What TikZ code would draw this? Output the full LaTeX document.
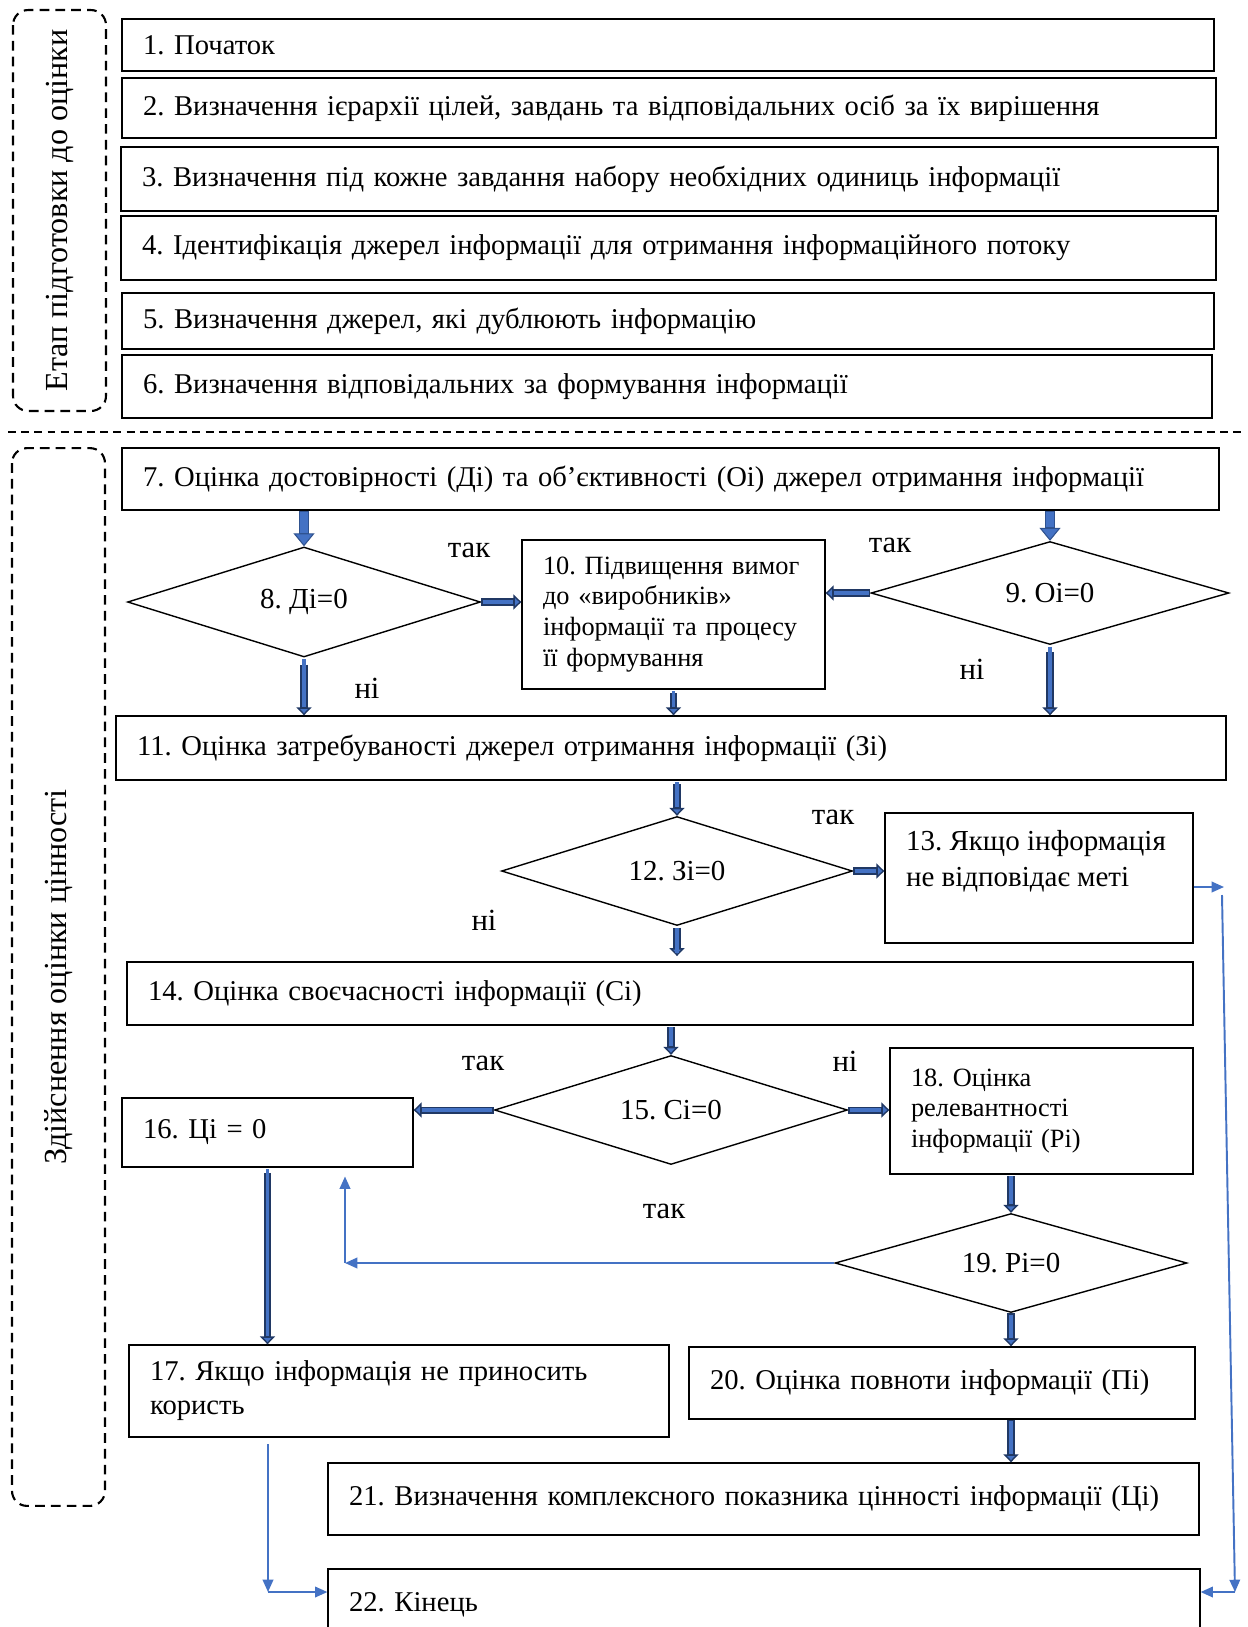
\documentclass[tikz,border=0pt]{standalone}
\usepackage{fontspec}
\setmainfont{Liberation Serif}
\usetikzlibrary{
  shapes.geometric, % for the diamonds
  arrows.meta}
\frenchspacing
\definecolor{navy}{HTML}{203864}
\definecolor{midnavy}{HTML}{2F528F}
\definecolor{midblue}{HTML}{4472C4}
\newcommand{\txt}{\fontsize{16.3}{19.3}\selectfont}
\newcommand{\smalltxt}{\fontsize{15}{17.6}\selectfont}
\tikzstyle{stage} = [draw, line width=0.8pt, align=left, inner xsep=0.42cm, inner ysep=0pt, font=\txt]
\tikzstyle{check} = [draw, diamond, line width=0.8pt, inner sep=0pt, aspect=3, font=\fontsize{16.5}{19}\selectfont]
\tikzstyle{phase} = [draw, dash pattern=on 5.5pt off 3.5pt, line width=1.2pt, rounded corners=0.3cm, rotate=90, font=\fontsize{18.3}{21}\selectfont]
\tikzstyle{answer} = [inner sep=0pt, font=\fontsize{17.5}{20}\selectfont]
\tikzstyle{sep} = [dash pattern=on 4.5pt off 3pt, line width=0.7pt]
\tikzstyle{blk} = [draw=navy, line width=4pt, -{Triangle[length=4.5pt,width=8.5pt,line width=0.8pt,fill=midblue]},
  postaction={draw=midblue, line width=2pt, -, shorten >=4.9pt, shorten <=1pt}]
\tikzstyle{blkbig} = [draw=midnavy, line width=5.7pt, -{Triangle[length=7.4pt,width=12pt,line width=0.6pt,fill=midblue]},
  postaction={draw=midblue, line width=4.5pt, -, shorten >=7.6pt, shorten <=0.6pt}]
\tikzstyle{fb} = [draw=midblue, line width=1.1pt, -{Triangle[length=7pt,width=6pt]}]

\begin{document}
\begin{tikzpicture}[x=0.02cm, y=-0.02cm]
\useasboundingbox (0,0) rectangle (1248,1627);
\clip (0,0) rectangle (1248,1627);

% preparation
\node[phase, minimum width=8.02cm, minimum height=1.86cm] (prep) at (59.5,210.5) {Етап підготовки до оцінки};
\node[stage, minimum height=1.04cm, text width=21cm] (b1) at (668,45) {1. Початок};
\node[stage, minimum height=1.2cm, text width=21.04cm] (b2) at (669,108) {2. Визначення ієрархії цілей, завдань та відповідальних осіб за їх вирішення};
\node[stage, minimum height=1.28cm, text width=21.1cm] (b3) at (669.5,179) {3. Визначення під кожне завдання набору необхідних одиниць інформації};
\node[stage, minimum height=1.28cm, text width=21.06cm] (b4) at (668.5,248) {4. Ідентифікація джерел інформації для отримання інформаційного потоку};
\node[stage, minimum height=1.12cm, text width=21cm] (b5) at (668,321) {5. Визначення джерел, які дублюють інформацію};
\node[stage, minimum height=1.26cm, text width=20.96cm] (b6) at (667,386.5) {6. Визначення відповідальних за формування інформації};

\draw[sep] (8,432) -- (1243,432);

% evaluation
\node[phase, minimum width=21.16cm, minimum height=1.86cm] (eval) at (58.5,977) {Здійснення оцінки цінності};
\node[stage, minimum height=1.24cm, text width=21.1cm] (b7) at (670.5,479) {7. Оцінка достовірності (Ді) та об’єктивності (Оі) джерел отримання інформації};
\node[check, minimum width=7.06cm, minimum height=2.2cm] (d8) at (304,602) {8. Ді=0};
\node[check, minimum width=7.16cm, minimum height=2.06cm] (d9) at (1050,593) {9. Оі=0};
\node[stage, font=\smalltxt, minimum height=2.98cm, text width=5.22cm] (b10) at (673.5,614.5) {10. Підвищення вимог\\до «виробників»\\інформації та процесу\\її формування};
\node[stage, minimum height=1.28cm, text width=21.36cm] (b11) at (671,748) {11. Оцінка затребуваності джерел отримання інформації (Зі)};
\node[check, minimum width=7.02cm, minimum height=2.18cm] (d12) at (677,871) {12. Зі=0};
\node[stage, font=\fontsize{16.5}{20.4}\selectfont, inner ysep=0.35cm] (b13) at (1039,878) {\parbox[c][1.9cm][t]{5.32cm}{13. Якщо інформація\\не відповідає меті}};
\node[stage, minimum height=1.26cm, text width=20.48cm] (b14) at (660,993.5) {14. Оцінка своєчасності інформації (Сі)};
\node[check, minimum width=7.06cm, minimum height=2.18cm] (d15) at (671,1110) {15. Сі=0};
\node[stage, minimum height=1.38cm, text width=4.98cm] (b16) at (267.5,1132.5) {16. Ці = 0};
\node[stage, font=\smalltxt, minimum height=2.52cm, text width=5.22cm] (b18) at (1041.5,1111) {18. Оцінка\\релевантності\\інформації (Рі)};
\node[check, minimum width=7.04cm, minimum height=1.98cm] (d19) at (1011,1263) {19. Рі=0};
\node[stage, minimum height=1.84cm, text width=9.96cm] (b17) at (399,1391) {17. Якщо інформація не приносить\\користь};
\node[stage, minimum height=1.44cm, text width=9.28cm] (b20) at (942,1383) {20. Оцінка повноти інформації (Пі)};
\node[stage, minimum height=1.44cm, text width=16.58cm] (b21) at (763.5,1499) {21. Визначення комплексного показника цінності інформації (Ці)};
\node[stage, minimum height=1.42cm, text width=16.6cm] (b22) at (764,1604.5) {22. Кінець};

% yes / no
\node[answer] (y8) at (469,550) {так};
\node[answer] (n8) at (367,688) {ні};
\node[answer] (y9) at (890,545) {так};
\node[answer] (n9) at (972,669) {ні};
\node[answer] (y12) at (833,817) {так};
\node[answer] (n12) at (484,920) {ні};
\node[answer] (y15) at (483,1063) {так};
\node[answer] (n15) at (845,1061) {ні};
\node[answer] (y19) at (664,1211) {так};

% main flow
\draw[blkbig] (b7.south -| d8.north) -- (d8.north);
\draw[blkbig] (b7.south -| d9.north) -- (d9.north);
\draw[blk] (d8.east) -- (d8.east -| b10.west);
\draw[blk] (d9.west) -- (d9.west -| b10.east);
\draw[blk, shorten <=4pt] (d8.south) -- (d8.south |- b11.north);
\draw[blk, shorten <=4pt] (d9.south) -- (d9.south |- b11.north);
\draw[blk, shorten <=2pt] (b10.south) -- (b10.south |- b11.north);
\draw[blk, shorten <=2pt] (b11.south -| d12.north) -- (d12.north);
\draw[blk] (d12.east) -- (d12.east -| b13.west);
\draw[blk, shorten <=1pt, shorten >=3pt] (d12.south) -- (d12.south |- b14.north);
\draw[blk, shorten <=1pt] (b14.south -| d15.north) -- (d15.north);
\draw[blk] (d15.west) -- (d15.west -| b16.east);
\draw[blk] (d15.east) -- (d15.east -| b18.west);
\draw[blk, shorten <=1pt] (b18.south -| d19.north) -- (d19.north);
\draw[blk, shorten <=3pt] (b16.south) -- (b16.south |- b17.north);
\draw[blk] (d19.south) -- (d19.south |- b20.north);
\draw[blk] (b20.south -| d19.north) -- (b21.north -| d19.north);

% feedback lines
\coordinate (c19) at (345,1263);
\coordinate (r13) at (1224,887);
\coordinate (rtop) at (1222,895);
\coordinate (rbot) at (1235,1592);
\coordinate (ltop) at (268,1444);
\coordinate (lbot) at (268,1592);
\draw[fb] (d19.west) -- (c19);
\draw[fb, shorten >=5pt] (c19) -- (c19 |- b16.south);
\draw[fb] (b13.east |- r13) -- (r13);
\draw[fb] (rtop) -- (rbot);
\draw[fb] (rbot) -- (rbot -| b22.east);
\draw[fb] (ltop) -- (lbot);
\draw[fb] (lbot) -- (lbot -| b22.west);

\end{tikzpicture}
\end{document}
